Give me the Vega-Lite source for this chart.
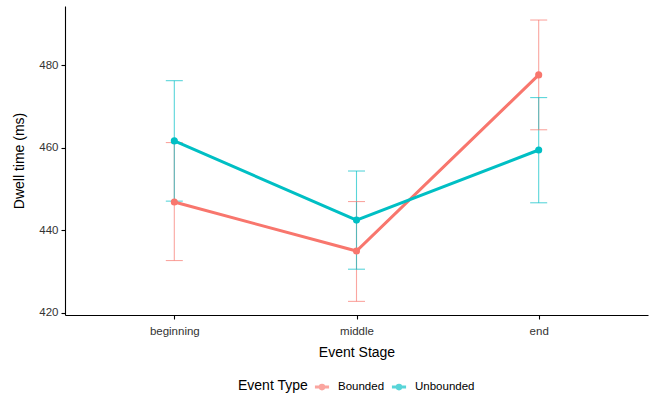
{
  "$schema": "https://vega.github.io/schema/vega-lite/v6.json",
  "width": 583,
  "height": 309,
  "autosize": {"type": "none"},
  "padding": {"left": 65, "top": 6, "right": 4, "bottom": 80},
  "background": "white",
  "config": {
    "view": {"stroke": null},
    "font": "Liberation Sans",
    "axis": {
      "grid": false,
      "domainColor": "black",
      "domainWidth": 1.1,
      "tickColor": "black",
      "tickWidth": 1.1,
      "tickSize": 4,
      "labelColor": "#333333",
      "labelFontSize": 11.5,
      "labelFont": "Liberation Sans",
      "titleFont": "Liberation Sans",
      "titleFontSize": 14,
      "titleFontWeight": "normal",
      "titleColor": "black"
    }
  },
  "data": {
    "values": [
      {"stage": "beginning", "type": "Bounded", "mean": 446.9, "lo": 432.7, "hi": 461.3},
      {"stage": "middle", "type": "Bounded", "mean": 435.0, "lo": 422.8, "hi": 447.0},
      {"stage": "end", "type": "Bounded", "mean": 477.7, "lo": 464.4, "hi": 491.0},
      {"stage": "beginning", "type": "Unbounded", "mean": 461.7, "lo": 447.1, "hi": 476.3},
      {"stage": "middle", "type": "Unbounded", "mean": 442.5, "lo": 430.6, "hi": 454.4},
      {"stage": "end", "type": "Unbounded", "mean": 459.5, "lo": 446.7, "hi": 472.2}
    ]
  },
  "encoding": {
    "x": {
      "field": "stage",
      "type": "nominal",
      "sort": ["beginning", "middle", "end"],
      "scale": {"type": "point", "padding": 0.6},
      "axis": {"labelAngle": 0, "title": "Event Stage", "labelPadding": 6, "titlePadding": 9}
    },
    "color": {
      "field": "type",
      "type": "nominal",
      "scale": {"domain": ["Bounded", "Unbounded"], "range": ["#F8766D", "#00BFC4"]},
      "legend": {
        "title": "Event Type",
        "orient": "none",
        "direction": "horizontal",
        "legendX": 173,
        "legendY": 372,
        "titleOrient": "left",
        "titleFontSize": 14,
        "titleFontWeight": "normal",
        "titleColor": "black",
        "titlePadding": 4,
        "labelFontSize": 11.5,
        "labelColor": "black",
        "labelOffset": 7,
        "columnPadding": 0,
        "symbolType": "M-1,0L1,0M-0.25,0A0.25,0.25,0,1,1,0.25,0A0.25,0.25,0,1,1,-0.25,0",
        "symbolSize": 200,
        "symbolStrokeWidth": 3
      }
    }
  },
  "layer": [
    {
      "mark": {"type": "rule", "strokeWidth": 1.1, "opacity": 0.65},
      "encoding": {
        "y": {"field": "lo", "type": "quantitative"},
        "y2": {"field": "hi"}
      }
    },
    {
      "mark": {"type": "tick", "orient": "horizontal", "size": 17, "thickness": 1.1, "opacity": 0.65},
      "encoding": {"y": {"field": "lo", "type": "quantitative"}}
    },
    {
      "mark": {"type": "tick", "orient": "horizontal", "size": 17, "thickness": 1.1, "opacity": 0.65},
      "encoding": {"y": {"field": "hi", "type": "quantitative"}}
    },
    {
      "mark": {"type": "line", "strokeWidth": 3},
      "encoding": {
        "y": {
          "field": "mean",
          "type": "quantitative",
          "scale": {"domain": [419.5, 494.4], "nice": false, "zero": false},
          "axis": {"values": [420, 440, 460, 480], "title": "Dwell time (ms)", "labelPadding": 3, "titlePadding": 12}
        }
      }
    },
    {
      "mark": {"type": "point", "filled": true, "size": 50, "opacity": 1},
      "encoding": {"y": {"field": "mean", "type": "quantitative"}}
    }
  ],
  "resolve": {"scale": {"y": "shared"}}
}
